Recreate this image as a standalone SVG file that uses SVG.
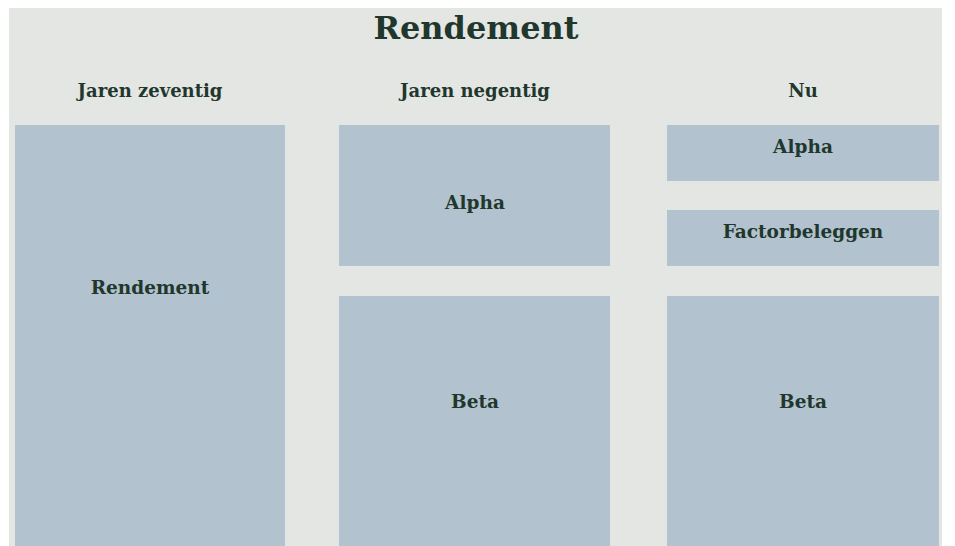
<svg xmlns="http://www.w3.org/2000/svg" width="955" height="546" viewBox="0 0 955 546">
<style>
.bg{fill:#e4e6e3}
.box{fill:#b2c2ce}
text{font-family:"DejaVu Serif","Liberation Serif",serif;font-weight:bold;fill:#1f372c;text-anchor:middle}
.title{font-size:32px}
.head{font-size:18px}
.lbl{font-size:18.5px}
</style>
<rect width="955" height="546" fill="#ffffff"/>
<rect class="bg" x="9" y="8" width="933" height="538"/>
<text class="title" x="476" y="39">Rendement</text>
<text class="head" x="150" y="97">Jaren zeventig</text>
<text class="head" x="475" y="97">Jaren negentig</text>
<text class="head" x="803" y="97">Nu</text>
<g id="rendement70">
<rect class="box" x="15" y="125" width="270" height="421"/>
<text class="lbl" x="150" y="294">Rendement</text>
</g>
<g id="alpha90">
<rect class="box" x="339" y="125" width="271" height="141"/>
<text class="lbl" x="475" y="209">Alpha</text>
</g>
<g id="beta90">
<rect class="box" x="339" y="296" width="271" height="250"/>
<text class="lbl" x="475" y="408">Beta</text>
</g>
<g id="alphaNu">
<rect class="box" x="667" y="125" width="272" height="56"/>
<text class="lbl" x="803" y="153">Alpha</text>
</g>
<g id="factorNu">
<rect class="box" x="667" y="210" width="272" height="56"/>
<text class="lbl" x="803" y="238">Factorbeleggen</text>
</g>
<g id="betaNu">
<rect class="box" x="667" y="296" width="272" height="250"/>
<text class="lbl" x="803" y="408">Beta</text>
</g>
<g id="connectors"></g>
</svg>
